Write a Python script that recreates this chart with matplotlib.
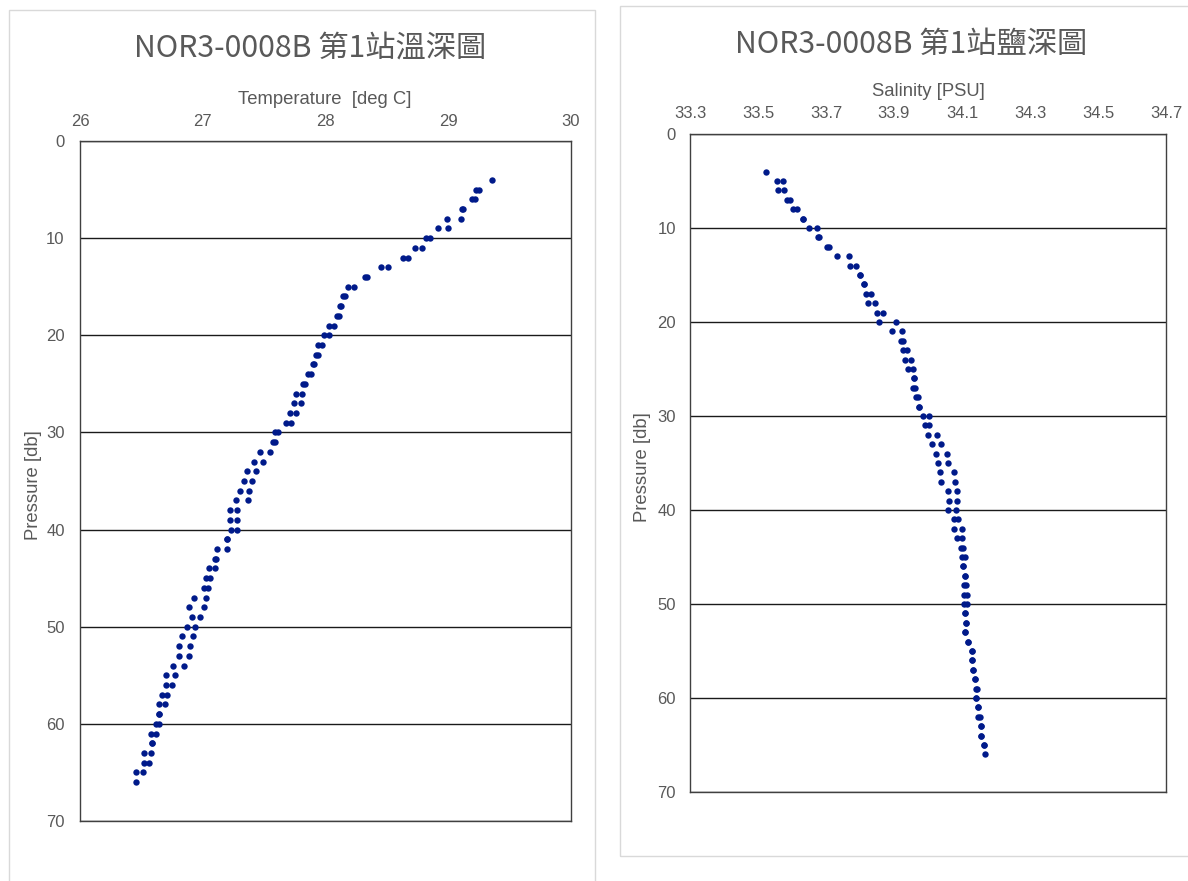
import numpy as np
import matplotlib
matplotlib.use("Agg")
import matplotlib.pyplot as plt
from matplotlib.patches import Rectangle

plt.rcParams['font.family'] = ['Liberation Sans', 'Noto Sans CJK TC', 'DejaVu Sans']

# ---------------- data ----------------
pressure = list(range(4, 67))

temp_a = [29.36, 29.23, 29.19, 29.11, 28.99, 28.92, 28.82, 28.73, 28.63, 28.45,
          28.32, 28.18, 28.14, 28.12, 28.09, 28.03, 27.99, 27.94, 27.92, 27.90,
          27.86, 27.82, 27.76, 27.74, 27.71, 27.68, 27.59, 27.57, 27.47, 27.42,
          27.36, 27.34, 27.30, 27.27, 27.22, 27.22, 27.23, 27.20, 27.12, 27.10,
          27.05, 27.03, 27.01, 26.93, 26.89, 26.91, 26.87, 26.83, 26.81, 26.81,
          26.76, 26.70, 26.70, 26.67, 26.64, 26.64, 26.62, 26.58, 26.59, 26.52,
          26.52, 26.46, 26.46]
temp_b = [np.nan, 29.25, 29.22, 29.12, 29.10, 29.00, 28.85, 28.79, 28.67, 28.51,
          28.34, 28.23, 28.16, 28.13, 28.11, 28.07, 28.03, 27.97, 27.94, 27.91,
          27.88, 27.83, 27.81, 27.80, 27.76, 27.72, 27.61, 27.59, 27.55, 27.49,
          27.43, 27.40, 27.38, 27.37, 27.28, 27.28, 27.28, 27.20, 27.20, 27.11,
          27.10, 27.06, 27.04, 27.03, 27.01, 26.98, 26.94, 26.92, 26.90, 26.89,
          26.85, 26.77, 26.75, 26.71, 26.69, 26.64, 26.64, 26.62, 26.59, 26.58,
          26.56, 26.51, np.nan]

sal_a = [33.524, 33.557, 33.558, 33.585, 33.602, 33.631, 33.649, 33.676, 33.704, 33.732,
         33.771, 33.801, 33.813, 33.819, 33.823, 33.851, 33.857, 33.893, 33.921, 33.926,
         33.932, 33.942, 33.958, 33.957, 33.965, 33.974, 33.985, 33.992, 33.999, 34.013,
         34.024, 34.030, 34.036, 34.038, 34.060, 34.062, 34.060, 34.076, 34.076, 34.085,
         34.098, 34.101, 34.104, 34.108, 34.105, 34.106, 34.106, 34.109, 34.112, 34.110,
         34.118, 34.128, 34.128, 34.131, 34.137, 34.141, 34.142, 34.146, 34.148, 34.155,
         34.155, 34.165, 34.168]
sal_b = [np.nan, 33.574, 33.577, 33.595, 33.616, 33.631, 33.673, 33.679, 33.710, 33.767,
         33.789, 33.801, 33.813, 33.831, 33.844, 33.867, 33.905, 33.924, 33.926, 33.937,
         33.950, 33.955, 33.958, 33.963, 33.971, 33.974, 34.003, 34.004, 34.026, 34.038,
         34.057, 34.059, 34.076, 34.080, 34.085, 34.085, 34.082, 34.087, 34.101, 34.100,
         34.104, 34.108, 34.104, 34.108, 34.112, 34.115, 34.114, 34.109, 34.112, 34.110,
         34.118, 34.128, 34.128, 34.131, 34.137, 34.144, 34.142, 34.146, 34.152, 34.155,
         34.155, 34.165, np.nan]

temp_ticks = [26, 27, 28, 29, 30]
sal_ticks = [33.3, 33.5, 33.7, 33.9, 34.1, 34.3, 34.5, 34.7]
pres_ticks = [0, 10, 20, 30, 40, 50, 60, 70]

title_left = "NOR3-0008B 第1站溫深圖"
title_right = "NOR3-0008B 第1站鹽深圖"

# ---------------- figure ----------------
W, H = 1188, 881
fig = plt.figure(figsize=(W / 100, H / 100), dpi=100)
fig.patch.set_facecolor('white')

def fx(x):
    return x / W

def fy(y):
    return 1 - y / H

# chart boxes
fig.patches.append(Rectangle((fx(9), fy(895)), fx(595) - fx(9), fy(10) - fy(895),
                             transform=fig.transFigure, fill=False,
                             edgecolor='#D9D9D9', linewidth=1))
fig.patches.append(Rectangle((fx(620), fy(856)), fx(1200) - fx(620), fy(6) - fy(856),
                             transform=fig.transFigure, fill=False,
                             edgecolor='#D9D9D9', linewidth=1))

txt_color = '#595959'
dot_color = '#001A8A'

def setup(ax, xticks, xlim, fmt):
    ax.set_xlim(*xlim)
    ax.set_ylim(70, 0)
    ax.xaxis.tick_top()
    ax.set_xticks(xticks)
    ax.set_xticklabels([fmt(v) for v in xticks])
    ax.set_yticks(pres_ticks)
    ax.tick_params(axis='x', length=0, pad=9, labelsize=12, labelcolor=txt_color)
    ax.tick_params(axis='y', length=0, pad=11, labelsize=12, labelcolor=txt_color)
    for s in ax.spines.values():
        s.set_color('#404040')
        s.set_linewidth(1.0)
    ax.yaxis.grid(True, color='#1a1a1a', linewidth=1.0)
    ax.xaxis.grid(False)
    ax.set_axisbelow(True)

# left: temperature
axL = fig.add_axes([fx(80), fy(821), fx(571) - fx(80), fy(141) - fy(821)])
setup(axL, temp_ticks, (26, 30), lambda v: f"{v:d}")
axL.plot(temp_a, pressure, 'o', color=dot_color, ms=4.6, mew=0, zorder=3)
axL.plot(temp_b, pressure, 'o', color=dot_color, ms=4.6, mew=0, zorder=3)

# right: salinity
axR = fig.add_axes([fx(690), fy(792), fx(1166) - fx(690), fy(134) - fy(792)])
setup(axR, sal_ticks, (33.3, 34.7), lambda v: f"{v:.1f}")
axR.tick_params(axis='y', pad=10)
axR.plot(sal_a, pressure, 'o', color=dot_color, ms=4.6, mew=0, zorder=3)
axR.plot(sal_b, pressure, 'o', color=dot_color, ms=4.6, mew=0, zorder=3)

# titles
tfam = ['Noto Sans CJK TC', 'DejaVu Sans']
fig.text(fx(310), fy(48), title_left, ha='center', va='center', fontsize=21.8,
         color=txt_color, family=tfam)
fig.text(fx(911), fy(44), title_right, ha='center', va='center', fontsize=21.8,
         color=txt_color, family=tfam)

# axis labels
fig.text(fx(325), fy(99), "Temperature  [deg C]", ha='center', va='center',
         fontsize=13.3, color=txt_color)
fig.text(fx(928), fy(92), "Salinity [PSU]", ha='center', va='center',
         fontsize=13.3, color=txt_color)
fig.text(fx(33), fy(485), "Pressure [db]", ha='center', va='center', rotation=90,
         fontsize=13.3, color=txt_color)
fig.text(fx(643), fy(467), "Pressure [db]", ha='center', va='center', rotation=90,
         fontsize=13.3, color=txt_color)

fig.savefig("out.png", dpi=100, facecolor='white')
